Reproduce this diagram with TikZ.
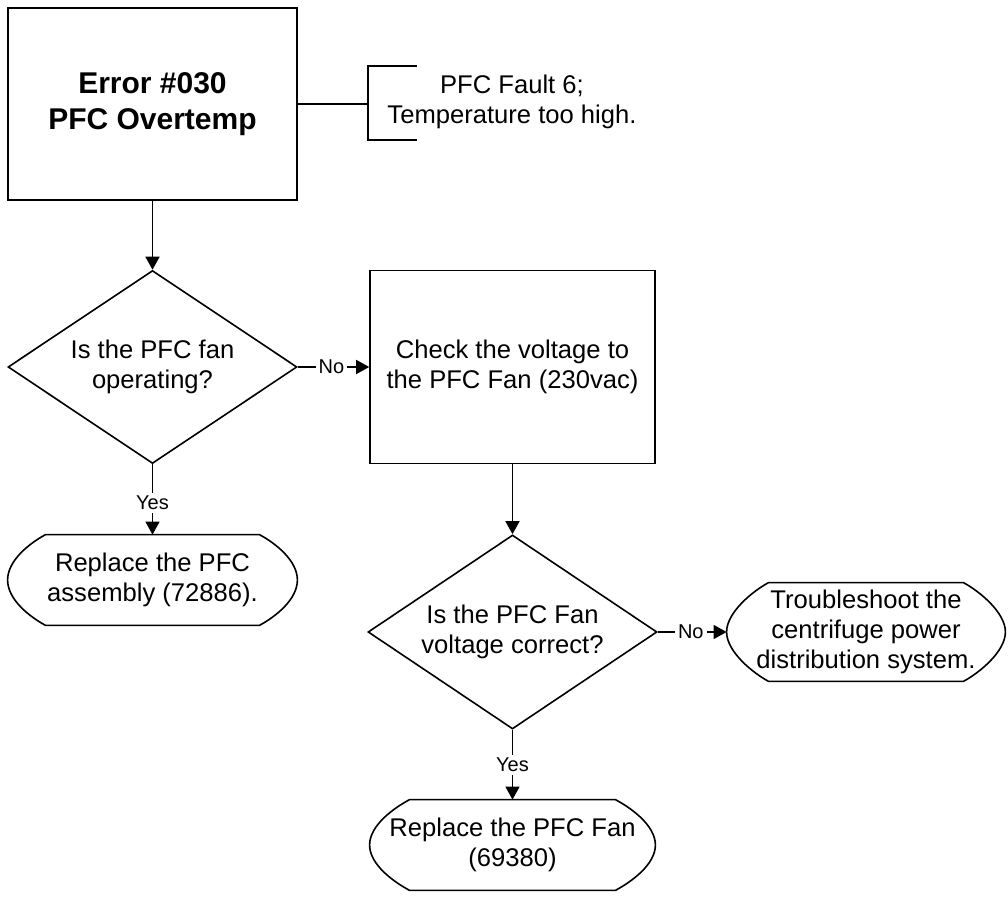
\documentclass[tikz,border=0pt]{standalone}
\usepackage{fontspec}
\setmainfont{Liberation Sans}
\usetikzlibrary{shapes.geometric,arrows.meta,positioning}

\tikzset{
  box/.style={draw, rectangle, line width=0.8pt, align=center, inner sep=2pt},
  dec/.style={draw, diamond, aspect=1.5, line width=0.8pt, align=center, inner sep=0pt},
  term/.style={rectangle, align=center, inner sep=0pt},
  lbl/.style={fill=white, font=\fontsize{10}{12}\selectfont, inner sep=1.5pt},
  arr/.style={line width=0.8pt, -{Triangle[length=6.5pt,width=7pt]}},
}

% outline of a terminator: straight top and bottom, bulging ends
\newcommand{\termshape}[2]{%
  \draw[line width=0.8pt] ([xshift=#2]#1.north west) -- ([xshift=-#2]#1.north east)
    .. controls +(7.5pt,-4pt) and +(0,10pt) .. (#1.east)
    .. controls +(0,-10pt) and +(7.5pt,4pt) .. ([xshift=-#2]#1.south east)
    -- ([xshift=#2]#1.south west)
    .. controls +(-7.5pt,4pt) and +(0,-10pt) .. (#1.west)
    .. controls +(0,10pt) and +(-7.5pt,-4pt) .. ([xshift=#2]#1.north west);}

\begin{document}
\begin{tikzpicture}[x=0.5pt, y=-0.5pt, font=\fontsize{12.8}{15}\selectfont]
  \useasboundingbox (0,0) rectangle (1008,897);

  % error box and its note
  \node[box, minimum width=144.5pt, minimum height=96pt,
        font=\fontsize{15}{18}\selectfont\bfseries] (err) at (152.5,104)
        {Error \#030\\PFC Overtemp};
  \coordinate (brk) at (368,104);
  \draw[line width=0.8pt] (err.east) -- (brk);
  \draw[line width=0.8pt] (417,66) -- (368,66) -- (368,140) -- (417,140);
  \node[align=center] (note) at (512,102) {PFC Fault 6;\\Temperature too high.};

  % first question
  \node[dec, minimum width=144.5pt, minimum height=96.5pt] (q1) at (152.5,367)
        {Is the PFC fan\\operating?};
  \node[box, minimum width=142.5pt, minimum height=96.5pt] (chk) at (512.5,367)
        {Check the voltage to\\the PFC Fan (230vac)};
  \node[term, minimum width=144.5pt, minimum height=45pt] (rep1) at (152.5,580)
        {Replace the PFC\\assembly (72886).};
  \termshape{rep1}{19pt}

  % second question
  \node[dec, minimum width=144.5pt, minimum height=97pt] (q2) at (512.5,632)
        {Is the PFC Fan\\voltage correct?};
  \node[term, minimum width=139pt, minimum height=49pt] (trb) at (866,632)
        {Troubleshoot the\\centrifuge power\\distribution system.};
  \termshape{trb}{21pt}
  \node[term, minimum width=142.5pt, minimum height=45pt] (rep2) at (512.5,845)
        {Replace the PFC Fan\\(69380)};
  \termshape{rep2}{20pt}

  % connectors
  \draw[arr] (err.south) -- (q1.north);
  \draw[arr] (q1.east) -- node[lbl, pos=0.47] {No} (chk.west);
  \draw[arr] (q1.south) -- node[lbl, pos=0.55] {Yes} (rep1.north);
  \draw[arr] (chk.south) -- (q2.north);
  \draw[arr] (q2.east) -- node[lbl, pos=0.48] {No} (trb.west);
  \draw[arr] (q2.south) -- node[lbl] {Yes} (rep2.north);
\end{tikzpicture}
\end{document}
